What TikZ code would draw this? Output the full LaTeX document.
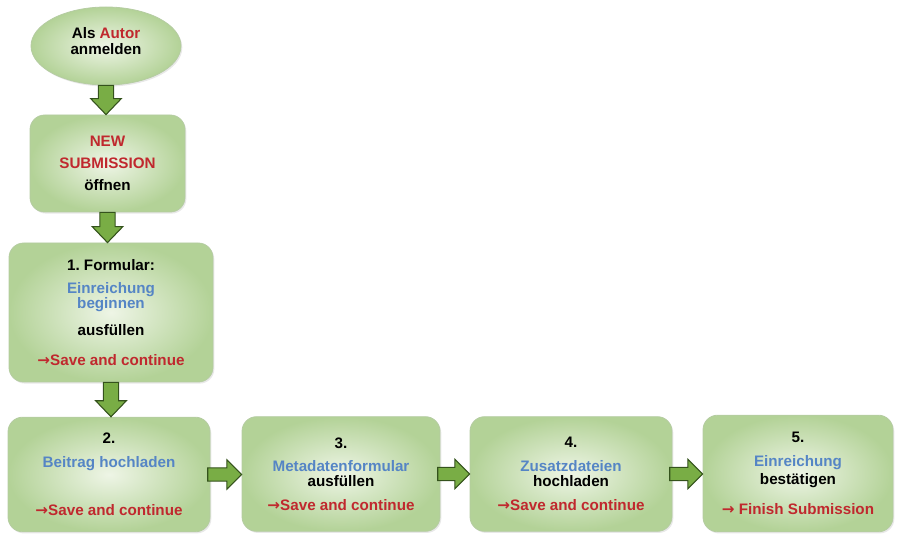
\documentclass[tikz,border=0pt]{standalone}
\usepackage{fontspec}
\setmainfont{Liberation Sans}
\newfontfamily\arrowfont{DejaVu Sans}
\usetikzlibrary{shapes.geometric,shadows,calc}

\definecolor{boxlight}{HTML}{EEF5E6}
\definecolor{boxdark}{HTML}{B3D297}
\definecolor{boxedge}{HTML}{B5CCA2}
\definecolor{arrowfill}{HTML}{79AD45}
\definecolor{arrowedge}{HTML}{34521C}
\definecolor{textred}{HTML}{C0282E}
\definecolor{textblue}{HTML}{5585C5}

\newcommand{\boxfont}{\bfseries\fontsize{11.4}{10.5}\selectfont\frenchspacing}
\newcommand{\rtxt}[1]{\textcolor{textred}{#1}}
\newcommand{\btxt}[1]{\textcolor{textblue}{#1}}
\newcommand{\redarrow}{{\arrowfont →}}
\newcommand{\savecont}{\rtxt{\redarrow Save and continue}}

\begin{document}
\begin{tikzpicture}
[
x=0.75pt, y=-0.75pt,
every node/.style={font=\boxfont, align=center, inner sep=0pt},
greenbox/.style={draw=boxedge, line width=0.6pt, inner color=boxlight, outer color=boxdark,
  drop shadow={opacity=0.18, shadow xshift=1pt, shadow yshift=-1.2pt}},
stepbox/.style={greenbox, rectangle, rounded corners=11pt},
rowbox/.style={stepbox, minimum height=86pt},
startnode/.style={greenbox, ellipse, minimum width=112.5pt, minimum height=58.5pt, text depth=7.5pt},
fatarrow/.style={draw=arrowedge, fill=arrowfill, line width=0.8pt, line join=miter},
downarrow/.style={fatarrow, to path={let \p1=(\tikztostart), \p2=(\tikztotarget) in
  (\x1-5.75pt,\y1) -- (\x1-5.75pt,\y2+12pt) -- (\x1-11.5pt,\y2+12pt) -- (\x1,\y2)
  -- (\x1+11.5pt,\y2+12pt) -- (\x1+5.75pt,\y2+12pt) -- (\x1+5.75pt,\y1) -- cycle}},
rightarrow/.style={fatarrow, to path={let \p1=(\tikztostart), \p2=(\tikztotarget) in
  (\x1-2pt,\y1+5pt) -- (\x2-11pt,\y1+5pt) -- (\x2-11pt,\y1+11pt) -- (\x2,\y1)
  -- (\x2-11pt,\y1-11pt) -- (\x2-11pt,\y1-5pt) -- (\x1-2pt,\y1-5pt) -- cycle}}
]
\useasboundingbox (0,0) rectangle (897,534);

% first column
\node[startnode] (login) at (106,46) {Als \rtxt{Autor}\\[2pt]anmelden};
\node[stepbox, minimum width=116.25pt, minimum height=72.75pt] (newsub) at (107.5,163.5)
  {\rtxt{NEW}\\[6pt]\rtxt{SUBMISSION}\\[6pt]öffnen};
\node[stepbox, minimum width=153pt, minimum height=104.25pt] (form) at (111,312.5)
  {1. Formular:\\[6.75pt]\btxt{Einreichung}\\[-0.5pt]\btxt{beginnen}\\[9pt]ausfüllen\\[12pt]\savecont};

% bottom row
\node[rowbox, minimum width=151.5pt] (upload) at (109,474.5)
  {2.\\[7.5pt]\btxt{Beitrag hochladen}\\[24pt]\savecont};
\node[rowbox, minimum width=148.5pt] (meta) at (341,474)
  {3.\\[7pt]\btxt{Metadatenformular}\\[0.75pt]ausfüllen\\[7.5pt]\savecont};
\node[rowbox, minimum width=151.5pt] (extra) at (571,474)
  {4.\\[7pt]\btxt{Zusatzdateien}\\[0.75pt]hochladen\\[7.5pt]\savecont};
\node[rowbox, minimum width=142.5pt, minimum height=87.5pt] (confirm) at (798,473.5)
  {5.\\[7.5pt]\btxt{Einreichung}\\[1.5pt]bestätigen\\[11pt]\rtxt{\redarrow\ Finish Submission}};

% arrows
\draw[downarrow] (login.south) to (newsub.north);
\draw[downarrow] (newsub.south) to (form.north);
\draw[downarrow] (form.south) to (upload.north);
\draw[rightarrow] (upload.east) to (meta.west);
\draw[rightarrow] (meta.east) to (extra.west);
\draw[rightarrow] (extra.east) to (confirm.west);
\end{tikzpicture}
\end{document}
